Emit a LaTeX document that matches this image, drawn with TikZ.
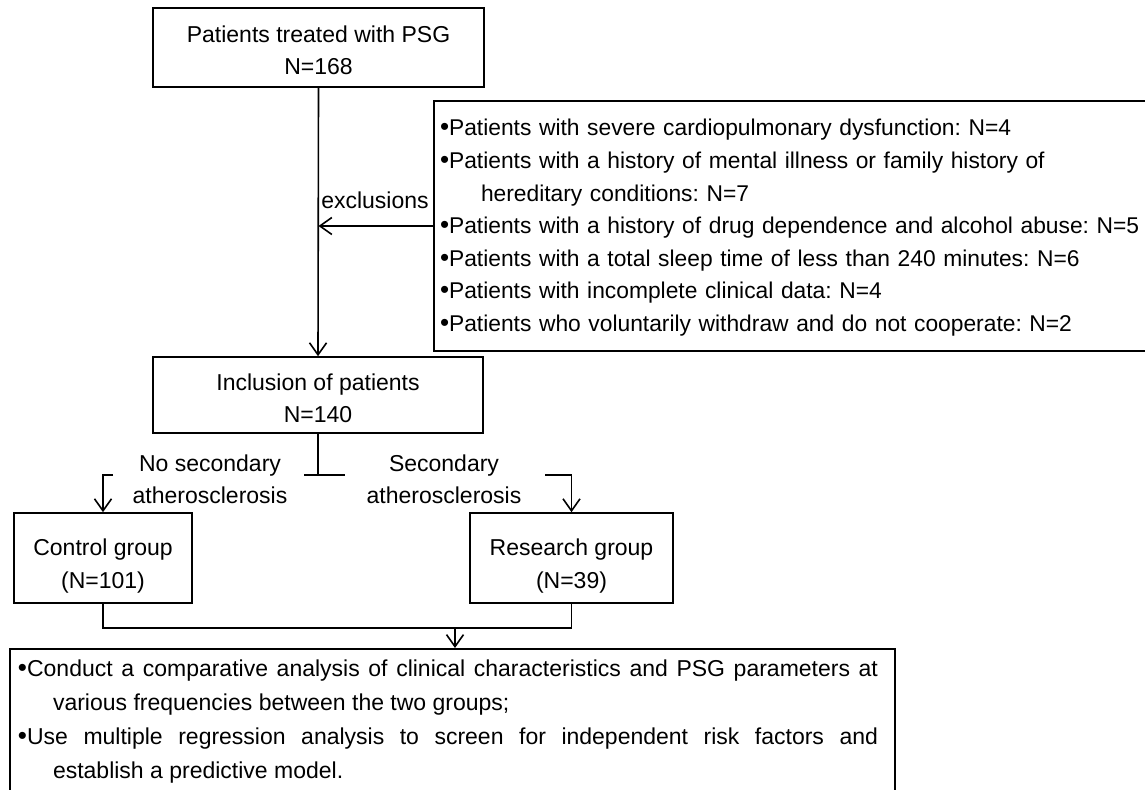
\documentclass[tikz,border=0pt]{standalone}
\usepackage{fontspec}
\setmainfont{Liberation Sans}
\usetikzlibrary{arrows.meta}
\frenchspacing
\newcommand\fsz{\fontsize{11.5}{16.2}\selectfont}
\newcommand\bul{{\fontsize{13}{0}\selectfont\textbullet}}
\newcommand\lift[1]{\rule{0pt}{#1}}
\begin{document}
\begin{tikzpicture}[x=0.5pt,y=-0.5pt,
  box/.style={draw, line width=0.8pt, inner sep=0pt, align=center, font=\fsz},
  lab/.style={inner sep=0pt, align=center, font=\fsz},
  line/.style={line width=0.8pt},
  arr/.style={line width=0.8pt, -{Straight Barb[length=6pt,width=8.5pt]}}]
\useasboundingbox (0,0) rectangle (1145,790);
\clip (0,0) rectangle (1145,790);
% boxes
\node[box, minimum width=165.5pt, minimum height=39.5pt] (top) at (318.5,47.5)
  {\lift{10.9pt}Patients treated with PSG\\N=168};
\node[box, minimum width=368pt, minimum height=125pt, text width=362pt,
  align=left, inner xsep=3pt, font=\fontsize{11.4}{16.3}\selectfont] (excl) at (802,226)
  {\lift{10pt}\bul Patients with severe cardiopulmonary dysfunction: N=4\\
   \bul Patients with a history of mental illness or family history of\\
   \hspace*{20.5pt}hereditary conditions: N=7\\
   \bul Patients with a history of drug dependence and alcohol abuse: N=5\\
   \bul Patients with a total sleep time of less than 240 minutes: N=6\\
   \bul Patients with incomplete clinical data: N=4\\
   \bul Patients who voluntarily withdraw and do not cooperate: N=2};
\node[box, minimum width=165pt, minimum height=38pt] (incl) at (318,395)
  {\lift{11.4pt}Inclusion of patients\\N=140};
\node[box, minimum width=89pt, minimum height=45pt] (ctrl) at (103,558)
  {\lift{16.4pt}Control group\\(N=101)};
\node[box, minimum width=101.5pt, minimum height=45pt] (rsh) at (571.5,558)
  {\lift{16.4pt}Research group\\(N=39)};
\node[box, anchor=north, minimum width=442.5pt, text width=434.5pt,
  align=justify, inner xsep=4pt, inner ysep=5.5pt, font=\fontsize{11.5}{17}\selectfont] (bot) at (452.5,648)
  {\parindent=0pt\rightskip=4.5pt
   \hangindent=17.5pt\hangafter=1
   \bul Conduct a comparative analysis of clinical characteristics and PSG parameters at\linebreak
   various frequencies between the two groups;\par
   \hangindent=17.5pt\hangafter=1
   \bul Use multiple regression analysis to screen for independent risk factors and\linebreak
   establish a predictive model.\par\vspace*{40pt}};
% labels
\node[lab] (exlab) at (375,200) {exclusions};
\node[lab] (nolab) at (210,479) {No secondary\\atherosclerosis};
\node[lab] (yeslab) at (444,479) {Secondary\\atherosclerosis};
% coordinates
\coordinate (exj) at (top.south |- excl.west);
\coordinate (split) at (318,475);
\coordinate (barL) at (304,475);
\coordinate (barR) at (345,475);
\coordinate (lbr) at (113,475);
\coordinate (rbr) at (545,475);
\coordinate (mrg) at (455,628);
% connectors
\draw[arr] (top.south) -- (incl.north);
\draw[arr] (excl.west) -- (exj);
\draw[line] (incl.south) -- (split);
\draw[line] (barL) -- (barR);
\draw[arr] (lbr) -- (lbr -| ctrl.north) -- (ctrl.north);
\draw[arr] (rbr) -- (rbr -| rsh.north) -- (rsh.north);
\draw[line] (ctrl.south) -- (ctrl.south |- mrg) -- (rsh.south |- mrg) -- (rsh.south);
\draw[arr] (mrg) -- (mrg |- bot.north);
\end{tikzpicture}
\end{document}
